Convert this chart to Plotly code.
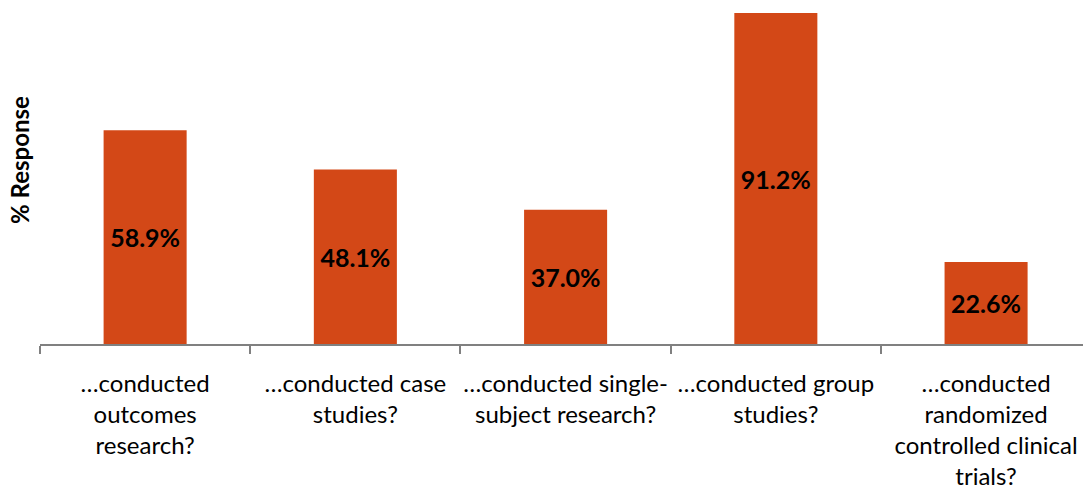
import plotly.graph_objects as go

categories = [
    "…conducted<br>outcomes<br>research?",
    "…conducted case<br>studies?",
    "…conducted single-<br>subject research?",
    "…conducted group<br>studies?",
    "…conducted<br>randomized<br>controlled clinical<br>trials?",
]
values = [58.9, 48.1, 37.0, 91.2, 22.6]
value_labels = ["58.9%", "48.1%", "37.0%", "91.2%", "22.6%"]

BAR_COLOR = "#D34817"
FONT = "Lato"

fig = go.Figure(
    go.Bar(
        x=categories,
        y=values,
        text=value_labels,
        textposition="inside",
        insidetextanchor="middle",
        textangle=0,
        textfont=dict(family=FONT, size=25, color="black", weight="bold"),
        marker=dict(color=BAR_COLOR, line=dict(width=0)),
        hoverinfo="skip",
    )
)

fig.update_layout(
    width=1083,
    height=496,
    margin=dict(l=40, r=0, t=0, b=152),
    paper_bgcolor="white",
    plot_bgcolor="white",
    bargap=0.605,
    showlegend=False,
    font=dict(family=FONT, size=24, color="black"),
    uniformtext=dict(minsize=8, mode=False),
)

# the last category runs slightly past the right edge of the canvas
fig.update_xaxes(
    type="category",
    range=[-0.5, 4.461],
    automargin=False,
    tickangle=0,
    showline=True,
    linecolor="#808080",
    linewidth=2,
    ticks="outside",
    tickson="boundaries",
    ticklen=8,
    tickwidth=1.5,
    tickcolor="#808080",
    tickfont=dict(family=FONT, size=24, color="black"),
    ticklabelstandoff=17,
    showgrid=False,
    zeroline=False,
)

fig.update_yaxes(
    range=[0, 94.8],
    automargin=False,
    showline=False,
    showticklabels=False,
    ticks="",
    showgrid=False,
    zeroline=False,
)

fig.add_annotation(
    text="<b>% Response</b>",
    xref="paper",
    yref="paper",
    x=-20 / 1043,
    y=0.535,
    xanchor="center",
    yanchor="middle",
    textangle=-90,
    showarrow=False,
    font=dict(family=FONT, size=24, color="black"),
)

fig.write_html("out.html")
